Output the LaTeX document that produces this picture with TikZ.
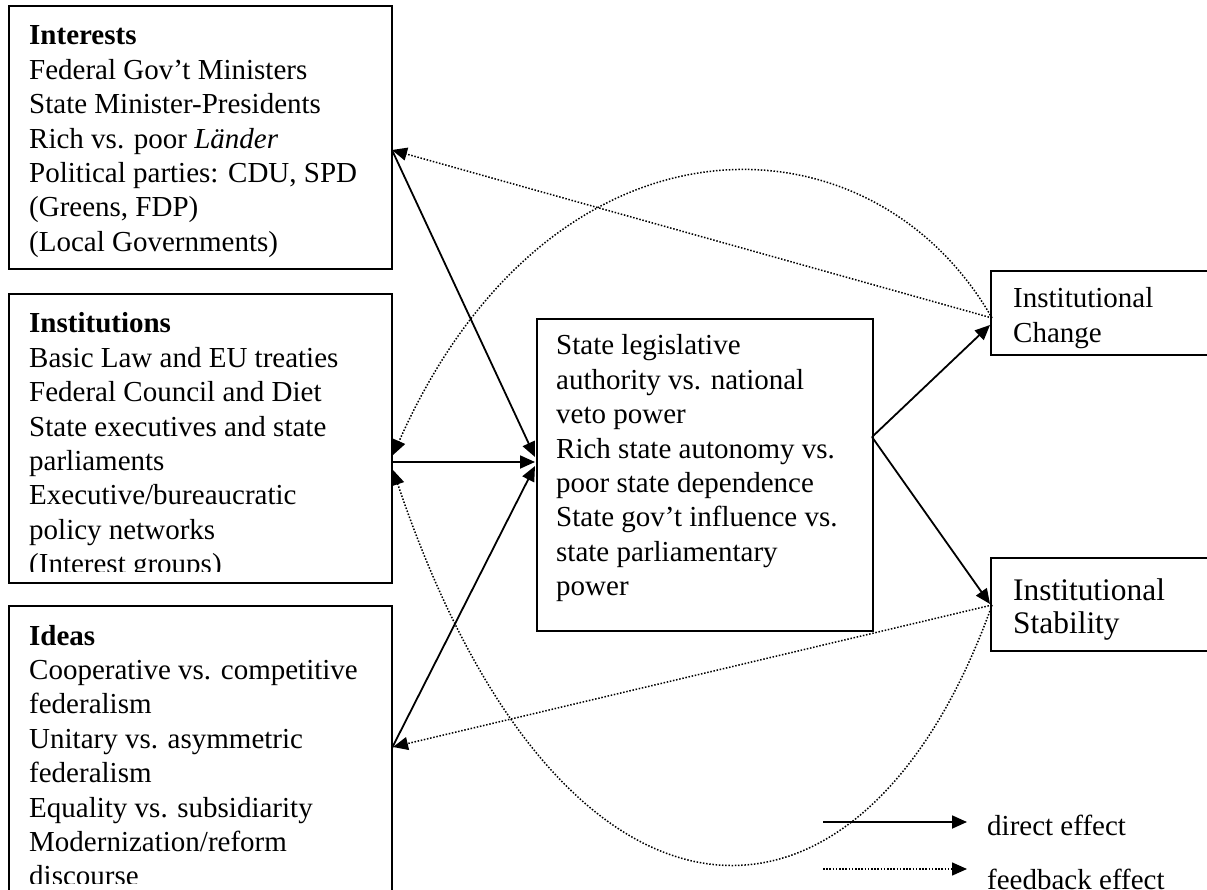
\documentclass[tikz,border=0pt]{standalone}
\usepackage{fontspec}
\setmainfont{Liberation Serif}
\usetikzlibrary{arrows.meta}
\begin{document}
\begin{tikzpicture}[x=1pt,y=-1pt,
  box/.style={draw, line width=1.8pt, inner sep=0pt, anchor=north west},
  txt/.style={anchor=base west, inner sep=0pt, font=\fontsize{29}{34.4}\selectfont},
  direct/.style={line width=1.8pt, -{Triangle[length=15pt,width=13pt]}},
  feedback/.style={line width=1.5pt, dash pattern=on 1.5pt off 1.7pt, -{Triangle[length=15pt,width=13pt]}}]
\useasboundingbox (0,0) rectangle (1207,890);
% boxes
\node[box, minimum width=383pt, minimum height=263pt] (intbox) at (8,5) {};
\node[box, minimum width=383pt, minimum height=289pt] (insbox) at (8,293) {};
\node[box, minimum width=383pt, minimum height=300pt] (idebox) at (8,605) {};
\node[box, minimum width=336pt, minimum height=312pt] (cenbox) at (536,318) {};
\node[box, minimum width=218pt, minimum height=84pt] (chgbox) at (990,270) {};
\node[box, minimum width=218pt, minimum height=93pt] (stabox) at (990,557) {};
% texts
\node[txt] (inttxt) at (29,45) {\begin{tabular}[t]{@{}l@{}}\textbf{Interests}\\ Federal Gov’t Ministers\\ State Minister-Presidents\\ Rich vs. poor \textit{Länder}\\ Political parties: CDU, SPD\\ (Greens, FDP)\\ (Local Governments)\end{tabular}};
\begin{scope}
\clip (10,295) rectangle (389,571);
\node[txt] (instxt) at (29,333) {\begin{tabular}[t]{@{}l@{}}\textbf{Institutions}\\ Basic Law and EU treaties\\ Federal Council and Diet\\ State executives and state\\ parliaments\\ Executive/bureaucratic\\ policy networks\\ (Interest groups)\end{tabular}};
\end{scope}
\begin{scope}
\clip (10,607) rectangle (389,883);
\node[txt] (idetxt) at (29,645) {\begin{tabular}[t]{@{}l@{}}\textbf{Ideas}\\ Cooperative vs. competitive\\ federalism\\ Unitary vs. asymmetric\\ federalism\\ Equality vs. subsidiarity\\ Modernization/reform\\ discourse\end{tabular}};
\end{scope}
\node[txt] (centxt) at (556,355) {\begin{tabular}[t]{@{}l@{}}State legislative\\ authority vs. national\\ veto power\\ Rich state autonomy vs.\\ poor state dependence\\ State gov’t influence vs.\\ state parliamentary\\ power\end{tabular}};
\node[txt] (chgtxt) at (1013,308) {\begin{tabular}[t]{@{}l@{}}Institutional\\ Change\end{tabular}};
\node[txt, font=\fontsize{31.4}{33}\selectfont] (statxt) at (1013,600) {\begin{tabular}[t]{@{}l@{}}Institutional\\ Stability\end{tabular}};
% connection points
\coordinate (intR) at (392,150);
\coordinate (insRa) at (393,455);
\coordinate (insR) at (392,462);
\coordinate (insRb) at (393,470);
\coordinate (ideR) at (392,748);
\coordinate (ideRd) at (393,747);
\coordinate (cenLa) at (535,457);
\coordinate (cenL) at (535,462);
\coordinate (cenLb) at (535,466);
\coordinate (cenR) at (872,437);
\coordinate (chgL) at (990,325);
\coordinate (staL) at (990,604);
\coordinate (chgF) at (992,318);
\coordinate (staF) at (992,605);
% direct effects
\draw[direct] (intR) -- (cenLa);
\draw[direct] (insR) -- (cenL);
\draw[direct] (ideR) -- (cenLb);
\draw[direct] (cenR) -- (chgL);
\draw[direct] (cenR) -- (staL);
% feedback effects
\draw[feedback] (chgF) -- (intR);
\draw[feedback] (chgF) .. controls (870,105) and (550,100) .. (insRa);
\draw[feedback] (staF) -- (ideRd);
\draw[feedback] (staF) .. controls (860,975) and (560,965) .. (insRb);
% legend
\coordinate (l1s) at (823,822);
\coordinate (l1e) at (967,822);
\coordinate (l2s) at (823,869);
\coordinate (l2e) at (967,869);
\draw[direct] (l1s) -- (l1e);
\draw[feedback] (l2s) -- (l2e);
\node[txt] (legd) at (987,835) {direct effect};
\node[txt] (legf) at (987,889) {feedback effect};
\end{tikzpicture}
\end{document}
